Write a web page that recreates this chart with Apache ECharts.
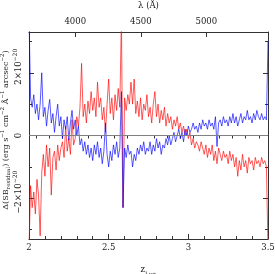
<!DOCTYPE html>
<html>
<head>
<meta charset="utf-8">
<script src="https://cdn.jsdelivr.net/npm/echarts@6/dist/echarts.min.js"></script>
<style>
html,body{margin:0;padding:0;background:#fff;}
#c{width:275px;height:274px;}
</style>
</head>
<body>
<div id="c"></div>
<script>
// ---- data (values in units of 1e-20 erg s^-1 cm^-2 A^-1 arcsec^-2) ----
const zStart = 2.0;
const zStep = 0.01;
const LYA = 1215.67;

const redValues = [
 -3.6,-1.6,-2.3,-1.8,-2.5,-1.4,-1.9,-3.2,-1.2,-0.6,
 -1.3,-0.3,-1.0,-0.4,-1.9,-0.7,-0.5,-1.1,-0.3,-0.8,
 -0.4,-0.2,-0.7,0.3,-0.5,-0.1,-0.6,0.5,-0.3,-0.1,
 0.6,0.3,0.9,2.3,0.6,1.0,0.4,1.1,0.7,1.4,
 0.8,1.2,0.6,1.7,0.9,1.2,0.5,0.9,0.1,1.0,
 1.8,0.7,1.2,0.5,1.3,0.8,1.5,0.9,3.8,-2.3,
 1.2,0.8,1.3,1.0,1.7,1.0,1.8,0.7,1.1,0.6,
 1.2,0.5,1.0,0.8,1.3,0.6,0.9,0.4,1.0,1.4,
 0.6,1.0,0.4,0.8,0.5,0.9,0.3,0.7,0.4,0.6,
 0.2,0.5,0.3,0.6,0.2,0.4,0.1,0.3,0.0,0.2,
 -0.1,0.1,-0.3,-0.1,-0.4,-0.2,-0.3,-0.5,-0.2,-0.4,
 -0.6,-0.3,-0.7,-0.4,-0.6,-0.3,-0.8,-0.5,-0.9,-0.4,
 -0.6,-0.8,-0.5,-0.7,-0.6,-0.9,-0.5,-0.8,-0.6,-1.0,
 -0.7,-1.3,-0.8,-1.1,-0.6,-1.0,-0.8,-1.2,-0.7,-0.9,
 -0.8,-1.1,-0.7,-0.9,-0.8,-1.0,-0.7,-0.9,-0.8,-1.0,
 -3.6
];

const blueValues = [
 3.8,1.2,0.9,1.3,0.7,1.0,0.5,1.0,2.0,0.6,
 0.9,0.3,0.8,1.15,0.4,0.7,0.1,0.6,1.0,0.3,
 0.6,-0.1,0.5,0.2,0.6,-0.15,0.4,0.8,0.2,0.5,
 0.0,0.3,-0.3,-0.1,-0.5,-0.2,-0.6,-0.3,-0.7,-0.4,
 -0.8,-0.3,-0.6,-0.2,-0.7,-0.4,-0.9,-0.5,0.4,-0.6,
 -1.0,-0.5,-0.8,-0.3,-0.6,-0.2,-0.7,-0.4,1.4,-2.3,
 -0.4,-0.7,-0.3,-0.6,-0.5,-1.0,-0.6,-0.8,-0.4,-0.6,
 -0.3,-0.5,-0.2,-0.6,-0.4,-0.5,-0.2,-0.6,-0.3,-0.5,
 -0.1,-0.4,-0.2,-0.6,-0.3,-0.4,-0.1,-0.3,0.0,-0.3,
 -0.1,0.1,-0.2,0.0,0.2,-0.1,0.1,-0.2,0.2,0.0,
 0.3,0.1,0.2,0.4,0.2,0.3,0.1,0.4,0.2,0.5,
 0.3,0.4,0.2,0.5,0.3,0.4,0.2,0.6,-0.35,0.4,
 0.5,0.3,0.6,0.4,0.5,0.3,0.6,0.4,0.7,0.4,
 0.6,0.3,0.5,0.7,0.4,0.6,0.5,0.8,0.5,0.6,
 0.4,0.7,0.5,0.8,0.6,0.5,0.7,0.5,0.6,0.5,
 3.0
];

const zTickLabels = [2, 2.5, 3, 3.5];
const lambdaLabels = [4000, 4500, 5000];
const lambdaMinorTicks = [3700,3800,3900,4100,4200,4300,4400,4600,4700,4800,4900,5100,5200,5300,5400];
const yLabelValues = [-2, 0, 2];
const yMinorTicks = [-3, -1, 1, 3];

// ---- chart ----
const FONT = 'DejaVu Serif';
const INK = '#222';
const AXIS = '#333';
const rich = {
  n:   {fontFamily: FONT, fontSize: 8.5, color: INK, lineHeight: 14},
  sup: {fontFamily: FONT, fontSize: 6, color: INK, verticalAlign: 'top', lineHeight: 8},
  sub: {fontFamily: FONT, fontSize: 6, color: INK, verticalAlign: 'bottom', lineHeight: 8},
  pad: {width: 12}
};
const richTitle = {
  n:   {fontFamily: FONT, fontSize: 8, color: INK, lineHeight: 12},
  sup: {fontFamily: FONT, fontSize: 5.5, color: INK, verticalAlign: 'top', lineHeight: 7},
  sub: {fontFamily: FONT, fontSize: 5.5, color: INK, verticalAlign: 'bottom', lineHeight: 7}
};

function toPairs(vals) {
  return vals.map((v, i) => [Math.round((zStart + i * zStep) * 1000) / 1000, v]);
}

const zMin = zTickLabels[0], zMax = zTickLabels[zTickLabels.length - 1];
const yMin = -3.3, yMax = 3.3;

const lineAxis = {show: true, onZero: false, lineStyle: {color: AXIS, width: 1}};

const option = {
  animation: false,
  backgroundColor: '#fff',
  grid: {left: 29, right: 7, top: 32, bottom: 35, containLabel: false, outerBoundsMode: 'none'},
  xAxis: [
    {
      type: 'value', position: 'bottom', min: zMin, max: zMax, interval: 0.5,
      axisLine: lineAxis,
      axisTick: {show: true, inside: true, length: 5, lineStyle: {color: AXIS}},
      minorTick: {show: true, splitNumber: 5, length: 3, lineStyle: {color: AXIS}},
      splitLine: {show: false}, minorSplitLine: {show: false},
      axisLabel: {margin: 4, fontFamily: FONT, fontSize: 8.5, color: INK,
        formatter: v => String(v)},
      name: '{n|z}{sub|Lyα}', nameLocation: 'middle', nameGap: 24, nameMoveOverlap: false,
      nameTextStyle: {rich: rich}
    },
    {
      type: 'value', position: 'top', min: LYA * (1 + zMin), max: LYA * (1 + zMax),
      axisLine: lineAxis,
      axisTick: {show: true, inside: true, length: 5, customValues: lambdaLabels, lineStyle: {color: AXIS}},
      splitLine: {show: false},
      axisLabel: {customValues: lambdaLabels, margin: 6, fontFamily: FONT, fontSize: 8.5, color: INK,
        formatter: v => String(v)},
      name: 'λ (Å)', nameLocation: 'middle', nameGap: 22, nameMoveOverlap: false,
      nameTextStyle: {fontFamily: FONT, fontSize: 8.5, color: INK}
    },
    {
      type: 'value', position: 'top', min: LYA * (1 + zMin), max: LYA * (1 + zMax),
      axisLine: {show: false},
      axisTick: {show: true, inside: true, length: 3, customValues: lambdaMinorTicks, lineStyle: {color: AXIS}},
      splitLine: {show: false},
      axisLabel: {show: false}
    }
  ],
  yAxis: [
    {
      type: 'value', position: 'left', min: yMin, max: yMax,
      axisLine: lineAxis,
      axisTick: {show: true, inside: true, length: 5, customValues: yLabelValues, lineStyle: {color: AXIS}},
      splitLine: {show: false},
      axisLabel: {customValues: yLabelValues, rotate: 90, margin: 3,
        formatter: v => v === 0 ? '{n|0}' : ('{pad|}{n|' + (v < 0 ? '−' : '') + Math.abs(v) + '×10}{sup|−20}'),
        rich: rich},
      name: '{n|Δ(SB}{sub|residual}{n|) (erg s}{sup|−1}{n| cm}{sup|−2}{n| Å}{sup|−1}{n| arcsec}{sup|−2}{n|)}',
      nameLocation: 'middle', nameGap: 17, nameRotate: 90, nameMoveOverlap: false,
      nameTruncate: {maxWidth: 400},
      nameTextStyle: {rich: richTitle, padding: [0, 0, 0, 11]}
    },
    {
      type: 'value', position: 'left', min: yMin, max: yMax,
      axisLine: {show: false},
      axisTick: {show: true, inside: true, length: 3, customValues: yMinorTicks, lineStyle: {color: AXIS}},
      splitLine: {show: false}, axisLabel: {show: false}
    },
    {
      type: 'value', position: 'right', min: yMin, max: yMax,
      axisLine: lineAxis,
      axisTick: {show: true, inside: true, length: 5, customValues: yLabelValues, lineStyle: {color: AXIS}},
      splitLine: {show: false}, axisLabel: {show: false}
    },
    {
      type: 'value', position: 'right', min: yMin, max: yMax,
      axisLine: {show: false},
      axisTick: {show: true, inside: true, length: 3, customValues: yMinorTicks, lineStyle: {color: AXIS}},
      splitLine: {show: false}, axisLabel: {show: false}
    }
  ],
  series: [
    {
      type: 'line', xAxisIndex: 0, yAxisIndex: 0, data: toPairs(redValues),
      showSymbol: false, symbol: 'none', clip: true,
      lineStyle: {color: '#ff0000', width: 1, opacity: 0.65}
    },
    {
      type: 'line', xAxisIndex: 0, yAxisIndex: 0, data: toPairs(blueValues),
      showSymbol: false, symbol: 'none', clip: true,
      lineStyle: {color: '#0000ff', width: 1, opacity: 0.65},
      markLine: {
        silent: true, symbol: ['none', 'none'], label: {show: false},
        lineStyle: {color: '#808080', width: 1, type: 'solid', opacity: 1},
        data: [{yAxis: 0}]
      }
    }
  ]
};

const chart = echarts.init(document.getElementById('c'), null, {renderer: 'canvas'});
chart.setOption(option);
</script>
</body>
</html>
